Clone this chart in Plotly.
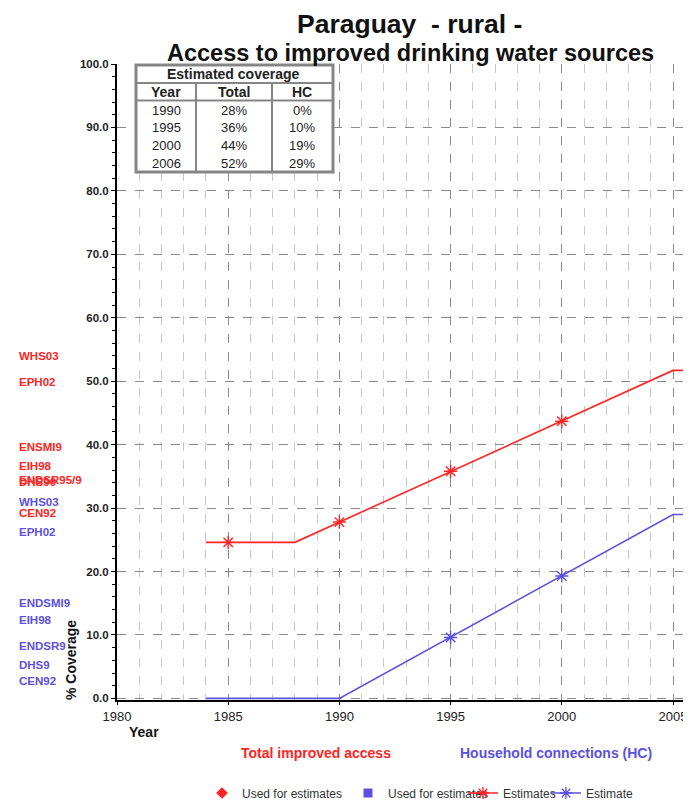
import plotly.graph_objects as go

# ---------------- data ----------------
total_line_years = [1984, 1988, 2005, 2006]
total_line_vals = [24.6, 24.6, 51.7, 51.7]
total_mark_years = [1985, 1990, 1995, 2000, 2006]
total_mark_vals = [24.6, 27.8, 35.8, 43.7, 51.7]

hc_line_years = [1984, 1990, 2005, 2006]
hc_line_vals = [0.0, 0.0, 29.0, 29.0]
hc_mark_years = [1995, 2000, 2006]
hc_mark_vals = [9.6, 19.3, 29.0]

red_survey_names = ["WHS03", "EPH02", "ENSMI9", "EIH98", "ENDSR95/9", "DHS90", "CEN92"]
red_survey_vals = [53.9, 49.8, 39.6, 36.6, 34.5, 34.1, 29.3]
blue_survey_names = ["WHS03", "EPH02", "ENDSMI9", "EIH98", "ENDSR9", "DHS9", "CEN92"]
blue_survey_vals = [31.0, 26.2, 15.0, 12.3, 8.3, 5.2, 2.8]

table_years = ["1990", "1995", "2000", "2006"]
table_total = ["28%", "36%", "44%", "52%"]
table_hc = ["0%", "10%", "19%", "29%"]

x_ticks = [1980, 1985, 1990, 1995, 2000, 2005]

RED = "#FF2424"
BLUE = "#5B50E0"
FONT = "Liberation Sans, Arial, sans-serif"

# ---------------- geometry helpers ----------------
# page has an 8px body margin; figure is sized so it ends at the window edge
O = 8
W, H = 691 - O, 801 - O
L, R, T, B = 117, 691, 64, 700   # plot area in window pixels


def px(x):
    return (x - L) / (R - L)


def py(y):
    return (B - y) / (B - T)


fig = go.Figure()

fig.add_trace(go.Scatter(x=total_line_years, y=total_line_vals, mode="lines",
                         line=dict(color=RED, width=1.6), showlegend=False, hoverinfo="skip"))
fig.add_trace(go.Scatter(x=total_mark_years, y=total_mark_vals, mode="markers",
                         marker=dict(symbol="asterisk-open", size=11, color=RED,
                                     line=dict(color=RED, width=1.4)),
                         showlegend=False, cliponaxis=False))
fig.add_trace(go.Scatter(x=hc_line_years, y=hc_line_vals, mode="lines",
                         line=dict(color=BLUE, width=1.6), showlegend=False, hoverinfo="skip"))
fig.add_trace(go.Scatter(x=hc_mark_years, y=hc_mark_vals, mode="markers",
                         marker=dict(symbol="asterisk-open", size=11, color=BLUE,
                                     line=dict(color=BLUE, width=1.4)),
                         showlegend=False, cliponaxis=False))

# legend-only traces
fig.add_trace(go.Scatter(x=[None], y=[None], mode="markers", name="Used for estimates",
                         marker=dict(symbol="diamond", size=9, color=RED), legend="legend"))
fig.add_trace(go.Scatter(x=[None], y=[None], mode="markers", name="Used for estimates",
                         marker=dict(symbol="square", size=9, color=BLUE), legend="legend2"))
fig.add_trace(go.Scatter(x=[None], y=[None], mode="lines+markers", name="Estimates",
                         line=dict(color=RED, width=1.4),
                         marker=dict(symbol="asterisk-open", size=10, line=dict(color=RED, width=1.3)),
                         legend="legend3"))
fig.add_trace(go.Scatter(x=[None], y=[None], mode="lines+markers", name="Estimate",
                         line=dict(color=BLUE, width=1.4),
                         marker=dict(symbol="asterisk-open", size=10, line=dict(color=BLUE, width=1.3)),
                         legend="legend4"))

legend_common = dict(orientation="h", font=dict(family=FONT, size=12, color="#333"),
                     bgcolor="rgba(0,0,0,0)", borderwidth=0, xanchor="left", yanchor="middle",
                     itemwidth=30)
ly = py(793)
fig.update_layout(
    legend=dict(legend_common, x=px(202), y=ly),
    legend2=dict(legend_common, x=px(348), y=ly),
    legend3=dict(legend_common, x=px(463), y=ly),
    legend4=dict(legend_common, x=px(546), y=ly),
)

annotations = []


def note(x, y, text, size, color="#111", bold=False, xanchor="center", yref="paper", angle=0):
    font = dict(family=FONT, size=size, color=color)
    if bold:
        font["weight"] = "bold"
    annotations.append(dict(x=px(x), y=(py(y) if yref == "paper" else y), xref="paper", yref=yref,
                            text=text, showarrow=False, xanchor=xanchor, yanchor="middle",
                            textangle=angle, font=font))


# survey labels
for n, v in zip(red_survey_names, red_survey_vals):
    note(17, v, n, 11.5, RED, True, "left", "y")
for n, v in zip(blue_survey_names, blue_survey_vals):
    note(17, v, n, 11.5, BLUE, True, "left", "y")

# titles
note(409, 24, "Paraguay  - rural -", 26.5, bold=True)
note(410, 53, "Access to improved drinking water sources", 23.5, bold=True)

# axis titles
note(71, 660, "% Coverage", 14, bold=True, angle=-90)
note(144, 732, "Year", 14, bold=True)

# series labels
note(316, 753, "Total improved access", 14, RED, True)
note(556, 753, "Household connections (HC)", 14, BLUE, True)

# table
shapes = []
tx0, tx1, ty0, ty1 = 136, 333, 65, 172
GR = "#858585"
shapes.append(dict(type="rect", xref="paper", yref="paper", x0=px(tx0), x1=px(tx1), y0=py(ty0), y1=py(ty1),
                   fillcolor="white", line=dict(color=GR, width=3), layer="above"))
for yy in (83, 100.5):
    shapes.append(dict(type="line", xref="paper", yref="paper", x0=px(tx0), x1=px(tx1), y0=py(yy), y1=py(yy),
                       line=dict(color=GR, width=2), layer="above"))
for xx in (196, 272):
    shapes.append(dict(type="line", xref="paper", yref="paper", x0=px(xx), x1=px(xx), y0=py(83), y1=py(ty1),
                       line=dict(color=GR, width=2), layer="above"))

note(233, 74.5, "Estimated coverage", 14, "#222", True)
col_x = [166, 234, 302]
for cx, h in zip(col_x, ["Year", "Total", "HC"]):
    note(cx, 91.5, h, 14, "#222", True)
row_y = [110, 127.5, 145.5, 163.5]
for ry, a, b_, c in zip(row_y, table_years, table_total, table_hc):
    for cx, t in zip(col_x, [a, b_, c]):
        note(cx, ry, t, 13, "#222")

fig.update_layout(
    width=W, height=H,
    margin=dict(l=L - O, r=0, t=T - O, b=H - (B - O), autoexpand=False),
    paper_bgcolor="white", plot_bgcolor="white",
    font=dict(family=FONT),
    annotations=annotations, shapes=shapes,
    hovermode=False,
)

fig.update_xaxes(
    range=[1980, 1980 + (R - L) / 22.24], tickvals=x_ticks, ticktext=[str(v) for v in x_ticks],
    showline=True, linecolor="black", linewidth=2, zeroline=False,
    ticks="outside", ticklen=3, tickcolor="black",
    tickfont=dict(family=FONT, size=13, color="#222"),
    showgrid=True, gridcolor="#8a8a8a", griddash="dash", gridwidth=1,
    minor=dict(dtick=1, showgrid=True, gridcolor="#c8c8c8", griddash="dash", gridwidth=1),
    layer="below traces",
)
fig.update_yaxes(
    range=[-0.25, 100], dtick=10, tickformat=".1f",
    showline=True, linecolor="black", linewidth=2, zeroline=False,
    ticks="outside", ticklen=4, tickcolor="black",
    tickfont=dict(family=FONT, size=11.5, color="#222", weight="bold"),
    showgrid=True, gridcolor="#8a8a8a", griddash="dash", gridwidth=1,
    minor=dict(dtick=2, ticks="outside", ticklen=3, tickcolor="black", showgrid=False),
    layer="below traces",
)

fig.write_html("out.html")
